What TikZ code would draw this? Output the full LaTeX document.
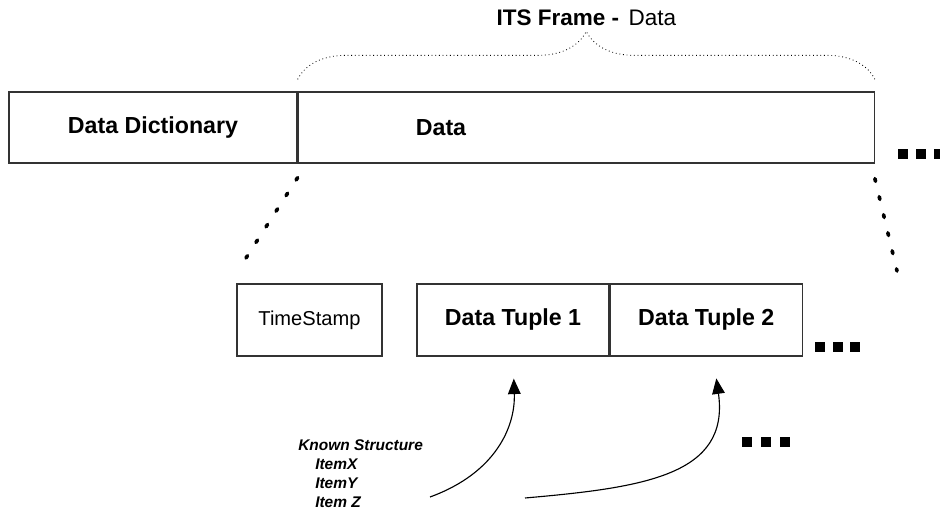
\documentclass[tikz,border=0pt]{standalone}
\usepackage{fontspec}
\setmainfont{Liberation Sans}
\usetikzlibrary{positioning,arrows.meta,decorations.pathreplacing}

\tikzset{
  box/.style={draw=black!80, line width=0.9pt, minimum height=1.8cm, inner sep=0pt},
  bigtext/.style={font=\fontsize{16.5}{20}\selectfont\bfseries},
  dotrow/.style={line width=2.6pt, line cap=round, dash pattern=on 2pt off 11.2pt},
  link/.style={-{Triangle[length=11pt,width=9pt]}, line width=0.8pt, shorten >=0.55cm},
}

\begin{document}
\begin{tikzpicture}
\useasboundingbox (0,0) rectangle (23.5,12.85);

% ITS frame: dictionary and data
\node[box, bigtext, minimum width=7.2cm, minimum height=1.775cm] (dict) at (3.825,9.6625) {Data Dictionary};
\node[box, minimum width=14.4cm, minimum height=1.775cm, right=0pt of dict] (data) {};
\node[bigtext] (datalabel) at (11.025,9.6625) {Data};

% brace over the data part
\draw[decorate, decoration={brace, amplitude=1.2cm}, dotted, line width=0.6pt]
  ([yshift=0.3cm]data.north west) -- ([yshift=0.3cm]data.north east);
\node[anchor=base, font=\fontsize{16}{19}\selectfont] (title) at (14.66,12.2) {\textbf{ITS Frame -}\hspace{0.15em} Data};

% data part, zoomed in
\node[box, minimum width=3.625cm, font=\fontsize{14.3}{17}\selectfont] (stamp) at (7.7375,4.85) {TimeStamp};
\node[box, bigtext, minimum width=4.8cm] (tup1) at (12.825,4.85) {Data Tuple 1};
\node[box, bigtext, minimum width=4.8cm, right=0pt of tup1] (tup2) {Data Tuple 2};

% zoom lines
\coordinate (leftend) at (6.15,6.4);
\coordinate (rightend) at (22.425,6.075);
\draw[dotrow] ([yshift=-0.35cm]data.south west) -- (leftend);
\draw[dotrow] ([yshift=-0.375cm]data.south east) -- (rightend);

% continuation marks
\foreach \x in {22.45,22.9,23.35} \fill (\x,8.875) rectangle ++(0.25,0.25);
\foreach \x in {20.375,20.815,21.255} \fill (\x,4.05) rectangle ++(0.25,0.25);
\foreach \x in {18.55,19.03,19.5} \fill (\x,1.675) rectangle ++(0.25,0.25);

% known structure
\node[anchor=north west, inner sep=0pt, align=left, font=\fontsize{11}{13.5}\selectfont\bfseries\itshape] (known) at (7.45,1.87)
  {Known Structure\\\hspace*{1.1em}ItemX\\\hspace*{1.1em}ItemY\\\hspace*{1.1em}Item Z};
\coordinate (a1) at (10.75,0.425);
\coordinate (a2) at (13.125,0.4);
\draw[link] (a1) to[out=20, in=-88, looseness=1.1] (tup1.south);
\draw[link] (a2) to[out=5, in=-82, looseness=1.3] ([xshift=0.175cm]tup2.south);
\end{tikzpicture}
\end{document}
